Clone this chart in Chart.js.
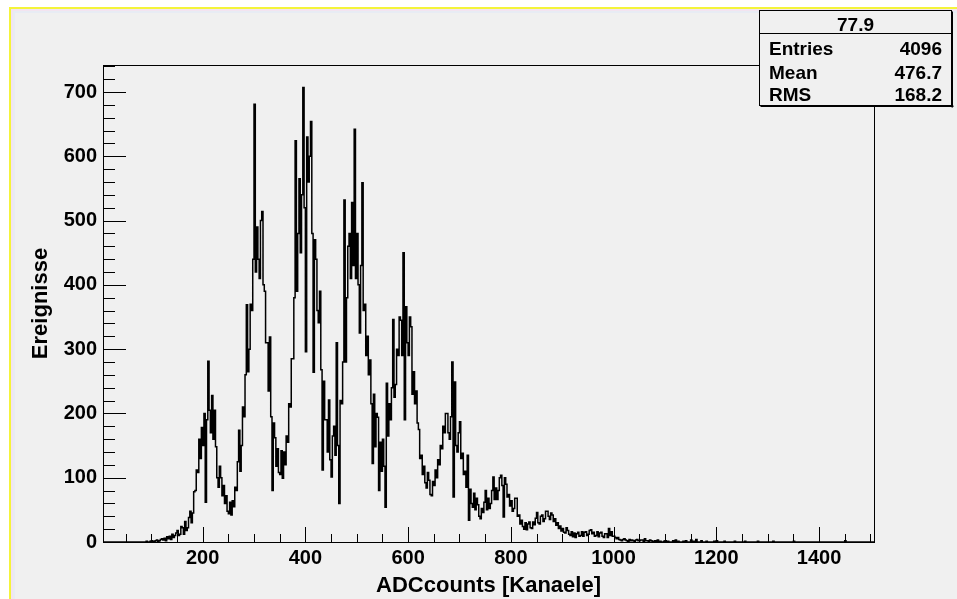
<!DOCTYPE html>
<html>
<head>
<meta charset="utf-8">
<title>ADCcounts</title>
<script src="https://cdn.jsdelivr.net/npm/chart.js@4.4.1/dist/chart.umd.min.js"></script>
<style>
  html, body { margin: 0; padding: 0; background: #ffffff; }
  #wrap { width: 957px; height: 599px; }
</style>
</head>
<body>
<div id="wrap"><canvas id="histo" width="957" height="599"></canvas></div>
<script>
// histogram, 2.5 channels per bin, first bin starts at channel 0
// (one row = 50 channels)
const binStart = 0;
const binWidth = 2.5;
const counts = [
  0, 0, 0, 0, 0, 0, 0, 0, 0, 0, 0, 0, 0, 0, 0, 0, 0, 0, 0, 0,
  0, 0, 0, 0, 0, 0, 0, 0, 0, 0, 0, 0, 0, 0, 0, 0, 1, 0, 0, 1,
  2, 1, 0, 2, 3, 1, 2, 4, 5, 3, 6, 2, 8, 5, 9, 4, 12, 7, 10, 14,
  18, 10, 12, 24, 22, 12, 32, 18, 22, 38, 48, 30, 45, 78, 80, 112, 108, 160, 130, 178,
  150, 200, 62, 190, 281, 205, 170, 228, 160, 205, 148, 100, 85, 118, 100, 72, 88, 60, 72, 48,
  44, 62, 42, 64, 55, 85, 80, 125, 174, 110, 150, 210, 195, 260, 369, 265, 300, 370, 360, 440,
  681, 420, 490, 440, 410, 500, 514, 400, 390, 310, 310, 235, 319, 195, 80, 185, 162, 118, 145, 108,
  105, 142, 99, 140, 120, 165, 155, 215, 210, 285, 285, 380, 624, 390, 480, 565, 450, 540, 707, 520,
  296, 630, 560, 600, 654, 480, 264, 470, 440, 360, 341, 390, 268, 112, 250, 190, 190, 140, 221, 128,
  101, 165, 180, 135, 310, 150, 60, 220, 215, 280, 532, 280, 380, 460, 480, 410, 528, 430, 642, 410,
  480, 400, 325, 430, 559, 360, 370, 290, 320, 260, 283, 215, 122, 230, 148, 200, 194, 80, 155, 110,
  160, 118, 54, 247, 165, 215, 190, 240, 346, 225, 245, 300, 290, 350, 345, 290, 450, 190, 366, 310,
  290, 350, 335, 230, 265, 215, 235, 185, 175, 130, 135, 105, 118, 92, 84, 108, 96, 74, 72, 94,
  88, 112, 100, 128, 120, 150, 145, 180, 170, 200, 200, 170, 160, 195, 280, 70, 249, 150, 140, 170,
  187, 130, 138, 105, 110, 85, 135, 34, 82, 60, 54, 76, 50, 68, 58, 40, 36, 52, 46, 62,
  80, 50, 68, 52, 60, 80, 101, 66, 84, 66, 80, 100, 104, 88, 39, 100, 90, 70, 74, 56,
  64, 48, 52, 68, 68, 40, 42, 28, 34, 24, 20, 30, 19, 28, 31, 22, 21, 31, 27, 37,
  46, 30, 28, 40, 42, 32, 36, 48, 48, 40, 35, 45, 42, 32, 36, 26, 30, 21, 25, 17,
  21, 15, 14, 22, 18, 12, 10, 16, 8, 14, 7, 13, 15, 9, 10, 16, 9, 15, 16, 10,
  12, 18, 19, 13, 15, 9, 10, 16, 8, 14, 15, 9, 7, 13, 13, 7, 21, 10, 16, 9,
  9, 7, 5, 7, 4, 3, 2, 4, 5, 3, 2, 1, 4, 2, 3, 2, 1, 3, 4, 2,
  2, 3, 3, 1, 5, 2, 2, 1, 3, 2, 1, 0, 2, 1, 3, 1, 1, 0, 0, 1,
  2, 0, 1, 0, 0, 0, 2, 1, 3, 0, 1, 0, 0, 0, 1, 0, 2, 0, 0, 0,
  3, 1, 1, 0, 4, 0, 0, 0, 2, 0, 0, 0, 1, 0, 0, 0, 0, 0, 1, 0,
  2, 0, 0, 0, 0, 0, 1, 0, 0, 0, 0, 0, 0, 0, 1, 0, 0, 0, 0, 0,
  0, 0, 1, 0, 0, 0, 0, 0, 0, 0, 0, 0, 1, 0, 0, 0, 0, 0, 0, 0,
  0, 0, 0, 0, 1, 0, 0, 0, 0, 0, 0, 0, 0, 0, 0, 0, 0, 0, 0, 0,
  1, 0, 0, 0, 0, 0, 0, 0, 0, 0, 0, 0, 0, 0, 0, 0, 0, 0, 0, 0,
  0, 0, 0, 0, 0, 0, 0, 0, 0, 0, 0, 0, 0, 0, 0, 0, 0, 0, 0, 0,
  2, 0, 0, 0, 0, 0, 0, 0, 0, 0, 0, 0, 0, 0, 0, 0, 0, 0, 0, 0,
  0, 0, 0, 0
];

const xTickValues = [200, 400, 600, 800, 1000, 1200, 1400];
const yTickValues = [0, 100, 200, 300, 400, 500, 600, 700];

const statsTitle = '77.9';
const statsNames = ['Entries', 'Mean', 'RMS'];
const statsValues = ['4096', '476.7', '168.2'];

// bin left edges + closing edge for the step outline
const points = counts.map((c, i) => ({ x: binStart + i * binWidth, y: c }));
points.push({ x: binStart + counts.length * binWidth, y: counts[counts.length - 1] });

const FONT = '"Liberation Sans", Arial, Helvetica, sans-serif';

// ROOT style canvas: gray pad, inward ticks, frame box and stats pave
const rootPad = {
  id: 'rootPad',
  beforeDraw(chart) {
    const ctx = chart.ctx;
    const w = chart.width, h = chart.height;
    ctx.save();
    ctx.fillStyle = '#ffffff';
    ctx.fillRect(0, 0, w, h);
    ctx.fillStyle = '#f0f0f0';
    ctx.fillRect(9, 7, w - 9, h - 7);
    ctx.fillStyle = '#f4f43a';
    ctx.fillRect(9, 7, w - 9, 2);
    ctx.fillRect(9, 7, 2, h - 7);
    ctx.fillStyle = '#f3e4f0';
    ctx.fillRect(11, 9, w - 11, 2);
    ctx.fillRect(11, 9, 2, h - 9);
    ctx.fillStyle = '#e8ecf4';
    ctx.fillRect(13, 11, w - 13, 2);
    ctx.fillRect(13, 11, 2, h - 11);
    ctx.restore();
  },
  afterDatasetsDraw(chart) {
    const { ctx, chartArea: a, scales: { x, y } } = chart;
    ctx.save();
    ctx.strokeStyle = '#000000';
    ctx.lineWidth = 1;
    ctx.strokeRect(a.left + 0.5, a.top + 0.5, a.right - a.left, a.bottom - a.top);

    ctx.beginPath();
    for (let v = 50; v <= x.max; v += 50) {
      if (v < x.min) continue;
      const px = Math.round(x.getPixelForValue(v)) + 0.5;
      const len = v % 200 === 0 ? 15 : 8;
      ctx.moveTo(px, a.bottom);
      ctx.lineTo(px, a.bottom - len);
    }
    for (let v = 0; v <= y.max; v += 20) {
      const py = Math.round(y.getPixelForValue(v)) + 0.5;
      const len = v % 100 === 0 ? 23 : 12;
      ctx.moveTo(a.left, py);
      ctx.lineTo(a.left + len, py);
    }
    ctx.stroke();

    // stats box
    const bx = 759.5, by = 10.5, bw = 192, bh = 95;
    ctx.fillStyle = '#000000';
    ctx.fillRect(bx + 1, by + bh, bw + 1, 1.5);
    ctx.fillRect(bx + bw, by + 1, 1.5, bh + 1);
    ctx.fillStyle = '#f0f0f0';
    ctx.fillRect(bx, by, bw, bh);
    ctx.strokeRect(bx, by, bw, bh);
    ctx.beginPath();
    ctx.moveTo(bx, 33.5);
    ctx.lineTo(bx + bw, 33.5);
    ctx.stroke();

    ctx.fillStyle = '#000000';
    ctx.font = 'bold 19px ' + FONT;
    ctx.textBaseline = 'alphabetic';
    ctx.textAlign = 'center';
    ctx.fillText(statsTitle, bx + bw / 2, 31);
    const rows = [55, 79, 101];
    statsNames.forEach((name, i) => {
      ctx.textAlign = 'left';
      ctx.fillText(name, 769, rows[i]);
      ctx.textAlign = 'right';
      ctx.fillText(statsValues[i], 942, rows[i]);
    });
    ctx.restore();
  }
};

new Chart(document.getElementById('histo'), {
  type: 'line',
  data: {
    datasets: [{
      label: 'ADC',
      data: points,
      stepped: 'before',
      borderColor: '#000000',
      borderWidth: 1.5,
      pointRadius: 0,
      fill: false,
      tension: 0
    }]
  },
  options: {
    responsive: false,
    animation: false,
    devicePixelRatio: 1,
    layout: { padding: { left: 0, top: 65, right: 83, bottom: 0 } },
    plugins: {
      legend: { display: false },
      tooltip: { enabled: false }
    },
    scales: {
      x: {
        type: 'linear',
        min: 6,
        max: 1507,
        grid: { display: false, drawTicks: false },
        border: { display: false },
        afterFit: s => { s.height = 57; },
        afterBuildTicks: s => { s.ticks = xTickValues.map(v => ({ value: v })); },
        ticks: {
          padding: 4,
          maxRotation: 0,
          autoSkip: false,
          color: '#000000',
          font: { family: FONT, size: 20, weight: 'bold' },
          callback: v => String(v)
        },
        title: {
          display: true,
          text: 'ADCcounts [Kanaele]',
          color: '#000000',
          padding: { top: 6, bottom: 0 },
          font: { family: FONT, size: 22, weight: 'bold' }
        }
      },
      y: {
        type: 'linear',
        min: 0,
        max: 742,
        grid: { display: false, drawTicks: false },
        border: { display: false },
        afterFit: s => { s.width = 103; },
        afterBuildTicks: s => { s.ticks = yTickValues.map(v => ({ value: v })); },
        ticks: {
          padding: 6,
          autoSkip: false,
          color: '#000000',
          font: { family: FONT, size: 20, weight: 'bold' },
          callback: v => String(v)
        },
        title: {
          display: true,
          text: 'Ereignisse',
          color: '#000000',
          padding: { top: 28, bottom: 0 },
          font: { family: FONT, size: 22, weight: 'bold' }
        }
      }
    }
  },
  plugins: [rootPad]
});
</script>
</body>
</html>
